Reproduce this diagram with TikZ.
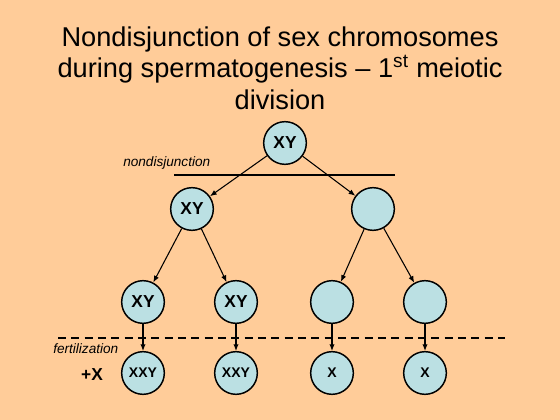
\documentclass[tikz,border=0pt]{standalone}
\usepackage{fontspec}
\setmainfont{Liberation Sans}
\usetikzlibrary{arrows.meta}
\definecolor{peach}{RGB}{255,204,153}
\definecolor{cellblue}{RGB}{187,224,227}
\tikzset{
  cell/.style={circle, draw=black, line width=1.1pt, fill=cellblue, minimum size=32pt, inner sep=0pt, font=\fontsize{13}{13}\selectfont\bfseries},
  zygote/.style={cell, font=\fontsize{10.5}{10.5}\selectfont\bfseries},
  split/.style={draw=black, line width=0.8pt, -{Latex[length=5pt,width=4pt]}},
  note/.style={inner sep=0.75pt, font=\fontsize{10.2}{12}\selectfont\itshape}
}
\begin{document}
\begin{tikzpicture}[x=0.75pt,y=0.75pt,yscale=-1,xscale=1]
%background
\fill [peach] (0,0) rectangle (560,420);
\useasboundingbox (0,0) rectangle (560,420);

% Title
\node (title) [align=center, font=\fontsize{20.4}{23.5}\selectfont] at (280,68)
  {Nondisjunction of sex chromosomes\\during spermatogenesis -- 1\textsuperscript{st} meiotic\\division};

%Shape: Circle - parent
\node (p) [cell] at (285,143) {XY};
%Shape: Circle - 1st division
\node (a) [cell] at (192,209) {XY};
\node (b) [cell] at (373,209) {};
%Shape: Circle - 2nd division
\node (a1) [cell] at (143,302) {XY};
\node (a2) [cell] at (236,302) {XY};
\node (b1) [cell] at (332,302) {};
\node (b2) [cell] at (425,302) {};
%Shape: Circle - zygotes
\node (z1) [zygote] at (143,373) {XXY};
\node (z2) [zygote] at (236,373) {XXY};
\node (z3) [zygote] at (332,373) {X};
\node (z4) [zygote] at (425,373) {X};

%Straight Lines
\coordinate (ndL) at (174,175);
\coordinate (ndR) at (395,175);
\draw [line width=1.5pt] (ndL) -- (ndR);
\coordinate (fL) at (58,338);
\coordinate (fR) at (505,338);
\draw [line width=1.1pt, dash pattern=on 6pt off 4pt] (fL) -- (fR);

\draw [split] (p) -- (a);
\draw [split] (p) -- (b);
\draw [split] (a) -- (a1);
\draw [split] (a) -- (a2);
\draw [split] (b) -- (b1);
\draw [split] (b) -- (b2);
\draw [split] (a1) -- (z1);
\draw [split] (a2) -- (z2);
\draw [split] (b1) -- (z3);
\draw [split] (b2) -- (z4);

% Text Node
\node (nd) [note, anchor=west] at (122,163) {nondisjunction};
% Text Node
\node (fert) [note, anchor=west] at (52,349) {fertilization};
% Text Node
\node (plusx) [font=\fontsize{13}{13}\selectfont\bfseries] at (92,375) {+X};

\end{tikzpicture}
\end{document}
